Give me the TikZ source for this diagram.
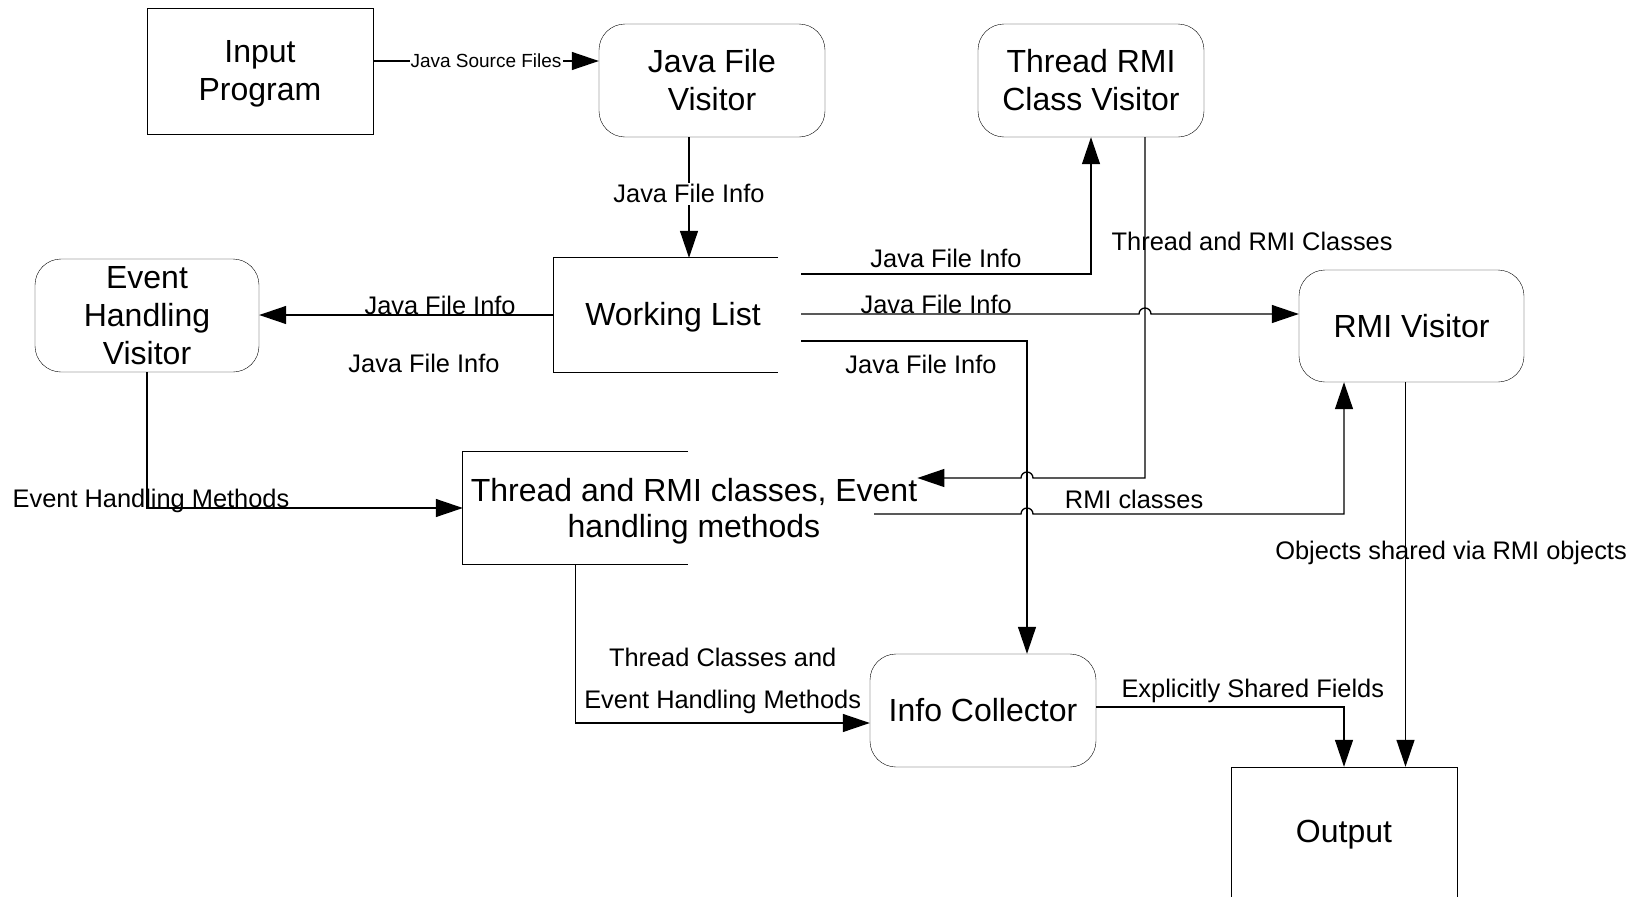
\documentclass[tikz,border=0pt]{standalone}
\usepackage{fontspec}
\setmainfont{Liberation Sans}
\usetikzlibrary{arrows.meta}
\tikzset{
  mainfont/.style={font=\fontsize{32}{38}\selectfont},
  lblfont/.style={font=\fontsize{25.4}{30}\selectfont, inner sep=0pt},
  smallfont/.style={font=\fontsize{19}{22}\selectfont, inner sep=1pt},
  sqbox/.style={draw, rectangle, mainfont, align=center, inner sep=0pt, minimum width=226pt, minimum height=126pt},
  rbox/.style={draw, rectangle, rounded corners=26pt, mainfont, align=center, inner sep=0pt, minimum width=226pt, minimum height=113pt},
  storebox/.style={rectangle, mainfont, align=center, inner sep=0pt, minimum width=225pt, minimum height=113pt},
  conn/.style={line width=1.3pt},
  arr/.style={conn, -{Triangle[length=27pt,width=18pt]}},
}
\begin{document}
\begin{tikzpicture}[x=1pt,y=-1pt, line join=miter]
\clip (0,0) rectangle (1647,897);
\fill[white] (0,0) rectangle (1647,897);

% nodes
\node[sqbox, label={[mainfont, align=center, inner sep=0pt, yshift=-3pt]center:Input\\Program}] (inp) at (260,71) {};
\node[rbox] (jfv) at (712,80.5) {Java File\\Visitor};
\node[rbox] (trcv) at (1091,80.5) {Thread RMI\\Class Visitor};
\node[rbox, minimum width=224pt] (ehv) at (147,315.5) {Event\\Handling\\Visitor};
\node[storebox, minimum width=224pt, minimum height=114pt] (wl) at (666,315) {};
\node[mainfont, inner sep=0pt] (wltext) at (673,317) {Working List};
\node[rbox, minimum width=225pt, minimum height=112pt] (rmi) at (1411.5,326) {RMI Visitor};
\node[storebox, minimum height=112pt] (ts) at (575.5,508) {};
\node[mainfont, align=center, inner sep=0pt, font=\fontsize{32}{36.5}\selectfont] (tstext) at (694,511) {Thread and RMI classes, Event\\handling methods};
\node[rbox] (ic) at (983,710.5) {Info Collector};
\node[sqbox, minimum height=140pt] (out) at (1344,837) {};
\node[mainfont, inner sep=0pt] (outtext) at (1344,835) {Output};

% open stores
\draw[conn] (wl.north east) -- (wl.north west) -- (wl.south west) -- (wl.south east);
\draw[conn] (ts.north east) -- (ts.north west) -- (ts.south west) -- (ts.south east);

% helper coordinates
\coordinate (a1) at ([yshift=10pt]inp.east);
\coordinate (x689) at (689,0);
\coordinate (w1) at (801,274);
\coordinate (w2) at (801,314);
\coordinate (w3) at (801,341);
\coordinate (x1027) at (1027,0);
\coordinate (x1145) at (1145,0);
\coordinate (t1) at (1145,478);
\coordinate (t2) at (874,514);
\coordinate (x1344) at (1344,0);
\coordinate (x1405) at (1405.5,0);

% 1 Input -> Java File Visitor
\draw[arr] (a1) -- (a1 -| jfv.west) node[midway, smallfont, fill=white] {Java Source Files};
% 2 Java File Visitor -> Working List
\draw[arr] (jfv.south -| x689) -- (wl.north -| x689) node[pos=0.47, lblfont, fill=white, inner sep=2pt] {Java File Info};
% 3 Working List -> Event Handling Visitor
\draw[arr] (wl.west) -- (wl.west -| ehv.east) node[pos=0.386, above, lblfont] {Java File Info};
% 4 Working List -> Thread RMI Class Visitor
\draw[arr] (w1) -- (w1 -| trcv.south) node[midway, above=5.4pt, lblfont] {Java File Info} -- (trcv.south);
% 5 Working List -> RMI Visitor (jump over x=1145)
\draw[arr] (w2) -- (1139,314) node[pos=0.40, above, lblfont] {Java File Info}
  arc[start angle=180, end angle=360, radius=6] -- (w2 -| rmi.west);
% 6 Working List -> Info Collector
\draw[arr] (w3) -- (w3 -| x1027) node[midway, below=13pt, xshift=7pt, lblfont] {Java File Info} -- (ic.north -| x1027);
% 7 Thread RMI Class Visitor -> store
\draw[arr] (trcv.south -| x1145) -- (t1) node[pos=0.306, anchor=west, xshift=-34pt, lblfont] {Thread and RMI Classes}
  -- (1033,478) arc[start angle=0, end angle=-180, radius=6] -- (t1 -| tstext.east);
% 8 store -> RMI Visitor
\draw[arr] (t2) -- (1021,514) arc[start angle=180, end angle=360, radius=6]
  -- (t2 -| x1344) node[pos=0.325, above=5pt, lblfont] {RMI classes} -- (rmi.south -| x1344);
% 9 Event Handling Visitor -> store
\draw[arr] (ehv.south) |- (ts.west) node[pos=0.5, above=-5pt, xshift=4pt, lblfont] {Event Handling Methods};
% 10 store -> Info Collector
\draw[arr] (ts.south) |- ([yshift=-12.5pt]ic.west) node[pos=0.75, above=9pt, lblfont, align=center, font=\fontsize{25.4}{42}\selectfont] {Thread Classes and\\Event Handling Methods};
% 11 Info Collector -> Output
\draw[arr] ([yshift=3.5pt]ic.east) -| (out.north) node[pos=0.316, above=3.7pt, lblfont] {Explicitly Shared Fields};
% 12 RMI Visitor -> Output
\draw[arr] (rmi.south -| x1405) -- (out.north -| x1405) node[pos=0.445, xshift=45.5pt, lblfont] {Objects shared via RMI objects};

% stray label
\node[lblfont] (jfi) at (424,363) {Java File Info};
\end{tikzpicture}
\end{document}
